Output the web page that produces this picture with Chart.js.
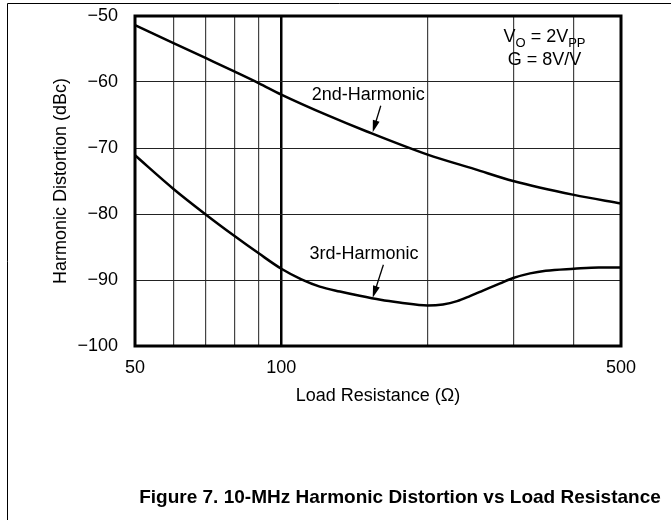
<!DOCTYPE html>
<html>
<head>
<meta charset="utf-8">
<script src="https://cdn.jsdelivr.net/npm/chart.js@4.4.1/dist/chart.umd.min.js"></script>
<style>
  html, body { margin: 0; padding: 0; background: #fff; }
  #wrap { width: 671px; height: 520px; }
</style>
</head>
<body>
<div id="wrap"><canvas id="graphic" width="671" height="520"></canvas></div>
<script>
// values
const resistance2nd = [50, 60, 70, 80, 90, 100, 125, 150, 200, 250, 300, 400, 500];
const harmonic2nd = [-51.4, -54.1, -56.4, -58.4, -60.2, -61.9, -65.1, -67.5, -71.0, -73.2, -75.0, -77.1, -78.4];

const resistance3rd = [50, 60, 70, 80, 90, 100, 110, 120, 132, 145, 160, 175, 200, 215, 230, 245, 260, 282, 300, 325, 350, 400, 450, 500];
const harmonic3rd = [-71.1, -76.2, -80.1, -83.3, -86.0, -88.3, -89.9, -91.0, -91.75, -92.4, -93.0, -93.4, -93.85, -93.7, -93.2, -92.4, -91.6, -90.5, -89.7, -89.0, -88.6, -88.3, -88.1, -88.1];

const xGrid = [50, 60, 70, 80, 90, 100, 200, 300, 400, 500];
const xLabels = [50, 100, 500];

const FONT = "'Liberation Sans', Arial, sans-serif";

const toPoints = (xs, ys) => xs.map((x, i) => ({ x: x, y: ys[i] }));

// little helper to draw an arrow in data coordinates
function arrow(ctx, xs, ys, from, to) {
    const x1 = xs.getPixelForValue(from[0]), y1 = ys.getPixelForValue(from[1]);
    const x2 = xs.getPixelForValue(to[0]), y2 = ys.getPixelForValue(to[1]);
    const a = Math.atan2(y2 - y1, x2 - x1);
    ctx.beginPath();
    ctx.moveTo(x1, y1);
    ctx.lineTo(x2 - 8 * Math.cos(a), y2 - 8 * Math.sin(a));
    ctx.lineWidth = 1.3;
    ctx.stroke();
    ctx.beginPath();
    ctx.moveTo(x2, y2);
    ctx.lineTo(x2 - 12 * Math.cos(a) + 3.5 * Math.sin(a), y2 - 12 * Math.sin(a) - 3.5 * Math.cos(a));
    ctx.lineTo(x2 - 12 * Math.cos(a) - 3.5 * Math.sin(a), y2 - 12 * Math.sin(a) + 3.5 * Math.cos(a));
    ctx.closePath();
    ctx.fill();
}

// text with subscripts, pieces = [[text, isSub], ...]
function subText(ctx, cx, cy, pieces) {
    const big = "18px " + FONT, small = "13px " + FONT;
    let w = 0;
    pieces.forEach(p => { ctx.font = p[1] ? small : big; w += ctx.measureText(p[0]).width; });
    let x = cx - w / 2;
    ctx.textAlign = 'left';
    ctx.textBaseline = 'middle';
    pieces.forEach(p => {
        ctx.font = p[1] ? small : big;
        ctx.fillText(p[0], x, p[1] ? cy + 6 : cy);
        x += ctx.measureText(p[0]).width;
    });
}

const extras = {
    id: 'extras',
    afterDraw(chart) {
        const ctx = chart.ctx;
        const area = chart.chartArea;
        const xs = chart.scales.x, ys = chart.scales.y;
        ctx.save();
        ctx.fillStyle = '#000';
        ctx.strokeStyle = '#000';

        // outer frame (top and left edges visible)
        ctx.lineWidth = 1;
        ctx.beginPath();
        ctx.moveTo(7.5, 520);
        ctx.lineTo(7.5, 3.5);
        ctx.lineTo(671, 3.5);
        ctx.stroke();

        // plot border
        ctx.lineWidth = 3;
        ctx.strokeRect(area.left, area.top, area.right - area.left, area.bottom - area.top);

        // curve labels
        ctx.font = "18px " + FONT;
        ctx.textAlign = 'center';
        ctx.textBaseline = 'middle';
        ctx.fillText('2nd-Harmonic', xs.getPixelForValue(151), ys.getPixelForValue(-62.0));
        ctx.fillText('3rd-Harmonic', xs.getPixelForValue(148), ys.getPixelForValue(-86.1));
        arrow(ctx, xs, ys, [160.2, -63.6], [154.2, -67.6]);
        arrow(ctx, xs, ys, [162.2, -87.7], [154.2, -92.7]);

        // conditions
        const cx = xs.getPixelForValue(348);
        subText(ctx, cx, ys.getPixelForValue(-53.2), [['V', false], ['O', true], [' = 2V', false], ['PP', true]]);
        subText(ctx, cx, ys.getPixelForValue(-56.7), [['G = 8V/V', false]]);

        // figure caption
        ctx.font = "bold 19px " + FONT;
        ctx.textAlign = 'center';
        ctx.textBaseline = 'middle';
        ctx.fillText('Figure 7. 10-MHz Harmonic Distortion vs Load Resistance', 400, 498);
        ctx.restore();
    }
};

const chartElement = document.getElementById("graphic");
const newChart = new Chart(chartElement, {
    type: 'line',
    data: {
        datasets: [{
            label: "2nd-Harmonic",
            data: toPoints(resistance2nd, harmonic2nd),
            borderColor: '#000',
            borderWidth: 2.5,
            pointRadius: 0,
            cubicInterpolationMode: 'monotone'
        }, {
            label: "3rd-Harmonic",
            data: toPoints(resistance3rd, harmonic3rd),
            borderColor: '#000',
            borderWidth: 2.5,
            pointRadius: 0,
            cubicInterpolationMode: 'monotone'
        }]
    },
    options: {
        responsive: false,
        devicePixelRatio: 1,
        animation: false,
        layout: { padding: { top: 16, right: 50, left: 0, bottom: 0 } },
        plugins: {
            legend: { display: false },
            tooltip: { enabled: false }
        },
        scales: {
            x: {
                type: 'logarithmic',
                min: 50,
                max: 500,
                afterBuildTicks: scale => { scale.ticks = xGrid.map(v => ({ value: v })); },
                afterFit: scale => { scale.height = 174; },
                border: { display: false },
                grid: {
                    drawTicks: false,
                    color: ctx => ctx.tick && ctx.tick.value === 100 ? '#000' : '#444',
                    lineWidth: ctx => ctx.tick && ctx.tick.value === 100 ? 2.5 : 1.2
                },
                ticks: {
                    autoSkip: false,
                    maxRotation: 0,
                    padding: 11,
                    color: '#000',
                    font: { family: FONT, size: 18 },
                    callback: v => xLabels.includes(v) ? String(v) : ''
                },
                title: {
                    display: true,
                    text: 'Load Resistance (\u03A9)',
                    color: '#000',
                    font: { family: FONT, size: 18 },
                    padding: { top: 0, bottom: 113 }
                }
            },
            y: {
                min: -100,
                max: -50,
                afterFit: scale => {
                    scale.width = 135;
                    scale.paddingTop = 0;
                    scale.paddingBottom = 0;
                },
                border: { display: false },
                grid: { drawTicks: false, color: '#222', lineWidth: 1 },
                ticks: {
                    stepSize: 10,
                    padding: 17,
                    color: '#000',
                    font: { family: FONT, size: 18 },
                    callback: v => String(v).replace('-', '\u2212')
                },
                title: {
                    display: true,
                    text: 'Harmonic Distortion (dBc)',
                    color: '#000',
                    font: { family: FONT, size: 18 },
                    padding: { top: 50, bottom: 0 }
                }
            }
        }
    },
    plugins: [extras]
});
</script>
</body>
</html>
